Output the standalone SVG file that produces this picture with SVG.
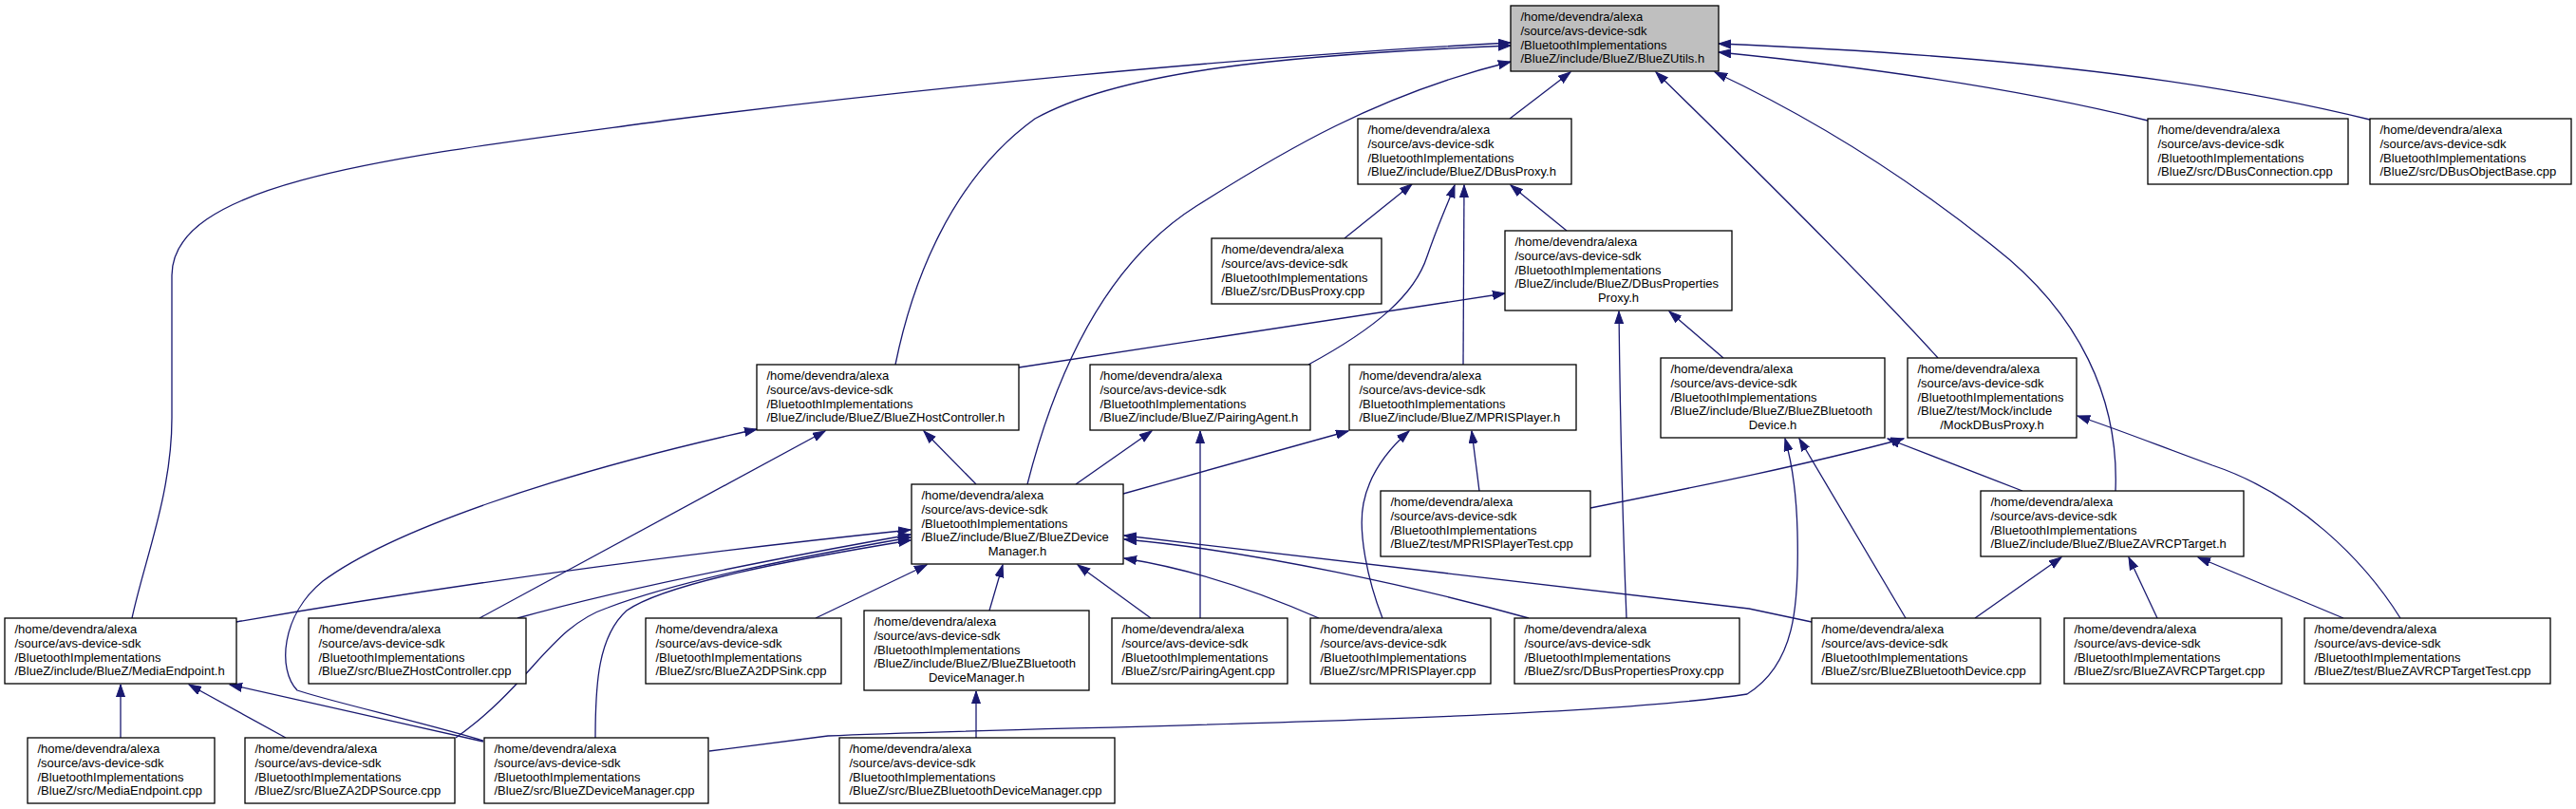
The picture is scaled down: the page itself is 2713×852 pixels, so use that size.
<svg xmlns="http://www.w3.org/2000/svg" width="2713" height="852" viewBox="0 0 2713 852">
<defs>
<marker id="arr" markerUnits="userSpaceOnUse" markerWidth="15" markerHeight="11" refX="13" refY="5" orient="auto">
<path d="M0,0.5 L13,5 L0,9.5 Z" fill="#191970" stroke="#191970" stroke-width="1"/>
</marker>
<style>
.node rect{fill:#ffffff;stroke:#000000;stroke-width:1.3}
.root rect{fill:#bfbfbf}
.node text{font-family:"Liberation Sans",Arial,Helvetica,sans-serif;font-size:13px;fill:#000000}
.c{text-anchor:middle}
#edges path{fill:none;stroke:#191970;stroke-width:1.3;marker-end:url(#arr)}
</style>
</defs>
<rect x="0" y="0" width="2713" height="852" fill="#ffffff"/>
<g id="edges">
<path d="M139,651 C152,590 181,520 181,440 L181,290 C181,190 420,165 700,127 C950,95 1300,60 1591,45"/>
<path d="M943,384 C960,300 1000,190 1090,125 C1180,75 1350,58 1591,48"/>
<path d="M1082,510 C1110,400 1160,280 1260,217 C1350,160 1450,100 1591,65"/>
<path d="M1590,125 L1654,76"/>
<path d="M2041,377 Q1955,282 1744,76"/>
<path d="M2228,517 C2232,420 2190,330 2100,260 C2000,180 1900,120 1806,76"/>
<path d="M2262,127 Q2080,82 1810,55"/>
<path d="M2496,126 C2350,90 2150,60 1810,46"/>
<path d="M1416,251 L1487,194"/>
<path d="M1378,384 C1450,345 1490,310 1503,270 C1515,235 1526,212 1532,195"/>
<path d="M1541,384 L1542,195"/>
<path d="M1650,243 L1591,195"/>
<path d="M1073,387 L1585,309"/>
<path d="M1815,377 L1758,328"/>
<path d="M1713,651 Q1707,500 1705,328"/>
<path d="M1028,510 L973,454"/>
<path d="M505,651 L869,454"/>
<path d="M509,780 C450,762 345,738 313,727 C292,705 296,648 340,612 C410,560 580,500 797,452"/>
<path d="M1133,510 L1213,454"/>
<path d="M1264,651 L1264,454"/>
<path d="M1183,520 L1420,454"/>
<path d="M1456,651 C1440,610 1430,560 1436,530 C1442,500 1460,475 1484,454"/>
<path d="M1558,517 L1550,454"/>
<path d="M2007,651 L1895,462"/>
<path d="M747,791 L872,775 C1100,765 1650,760 1840,731 C1890,700 1895,640 1893,560 C1892,520 1888,490 1880,462"/>
<path d="M1675,535 C1800,510 1900,490 2005,462"/>
<path d="M2130,517 L1988,462"/>
<path d="M2528,651 C2490,590 2420,520 2330,490 C2270,468 2230,452 2188,438"/>
<path d="M249,655 C450,620 700,585 959,558"/>
<path d="M545,651 C620,630 750,600 959,563"/>
<path d="M480,777 C560,720 580,660 640,640 C720,610 850,585 959,566"/>
<path d="M627,777 C627,720 630,670 660,643 C700,615 830,590 959,569"/>
<path d="M859,651 L976,595"/>
<path d="M1042,643 L1056,595"/>
<path d="M1212,651 L1135,595"/>
<path d="M1389,651 C1330,625 1260,600 1184,588"/>
<path d="M1610,651 C1500,620 1320,580 1184,568"/>
<path d="M1908,655 L1842,641 C1600,612 1380,585 1184,564"/>
<path d="M1028,777 L1028,728"/>
<path d="M127,777 L127,721"/>
<path d="M301,777 L199,721"/>
<path d="M509,781 L242,721"/>
<path d="M2080,651 L2171,587"/>
<path d="M2272,651 L2242,587"/>
<path d="M2468,651 L2315,587"/>
</g>
<g id="node0" class="node root"><rect x="1591" y="6" width="219" height="69"/><text><tspan x="1601.5" y="22.4">/home/devendra/alexa</tspan><tspan x="1601.5" y="37">/source/avs-device-sdk</tspan><tspan x="1601.5" y="51.6">/BluetoothImplementations</tspan><tspan x="1601.5" y="66.2">/BlueZ/include/BlueZ/BlueZUtils.h</tspan></text></g>
<g id="node1" class="node"><rect x="1430" y="125" width="225" height="69"/><text><tspan x="1440.5" y="141.4">/home/devendra/alexa</tspan><tspan x="1440.5" y="156">/source/avs-device-sdk</tspan><tspan x="1440.5" y="170.6">/BluetoothImplementations</tspan><tspan x="1440.5" y="185.2">/BlueZ/include/BlueZ/DBusProxy.h</tspan></text></g>
<g id="node2" class="node"><rect x="2262" y="125" width="211" height="69"/><text><tspan x="2272.5" y="141.4">/home/devendra/alexa</tspan><tspan x="2272.5" y="156">/source/avs-device-sdk</tspan><tspan x="2272.5" y="170.6">/BluetoothImplementations</tspan><tspan x="2272.5" y="185.2">/BlueZ/src/DBusConnection.cpp</tspan></text></g>
<g id="node3" class="node"><rect x="2496" y="125" width="212" height="69"/><text><tspan x="2506.5" y="141.4">/home/devendra/alexa</tspan><tspan x="2506.5" y="156">/source/avs-device-sdk</tspan><tspan x="2506.5" y="170.6">/BluetoothImplementations</tspan><tspan x="2506.5" y="185.2">/BlueZ/src/DBusObjectBase.cpp</tspan></text></g>
<g id="node4" class="node"><rect x="1276" y="251" width="179" height="69"/><text><tspan x="1286.5" y="267.4">/home/devendra/alexa</tspan><tspan x="1286.5" y="282">/source/avs-device-sdk</tspan><tspan x="1286.5" y="296.6">/BluetoothImplementations</tspan><tspan x="1286.5" y="311.2">/BlueZ/src/DBusProxy.cpp</tspan></text></g>
<g id="node5" class="node"><rect x="1585" y="243" width="239" height="84"/><text><tspan x="1595.5" y="259.4">/home/devendra/alexa</tspan><tspan x="1595.5" y="274">/source/avs-device-sdk</tspan><tspan x="1595.5" y="288.6">/BluetoothImplementations</tspan><tspan x="1595.5" y="303.2">/BlueZ/include/BlueZ/DBusProperties</tspan><tspan class="c" x="1704.5" y="317.8">Proxy.h</tspan></text></g>
<g id="node6" class="node"><rect x="797" y="384" width="276" height="69"/><text><tspan x="807.5" y="400.4">/home/devendra/alexa</tspan><tspan x="807.5" y="415">/source/avs-device-sdk</tspan><tspan x="807.5" y="429.6">/BluetoothImplementations</tspan><tspan x="807.5" y="444.2">/BlueZ/include/BlueZ/BlueZHostController.h</tspan></text></g>
<g id="node7" class="node"><rect x="1148" y="384" width="232" height="69"/><text><tspan x="1158.5" y="400.4">/home/devendra/alexa</tspan><tspan x="1158.5" y="415">/source/avs-device-sdk</tspan><tspan x="1158.5" y="429.6">/BluetoothImplementations</tspan><tspan x="1158.5" y="444.2">/BlueZ/include/BlueZ/PairingAgent.h</tspan></text></g>
<g id="node8" class="node"><rect x="1421" y="384" width="239" height="69"/><text><tspan x="1431.5" y="400.4">/home/devendra/alexa</tspan><tspan x="1431.5" y="415">/source/avs-device-sdk</tspan><tspan x="1431.5" y="429.6">/BluetoothImplementations</tspan><tspan x="1431.5" y="444.2">/BlueZ/include/BlueZ/MPRISPlayer.h</tspan></text></g>
<g id="node9" class="node"><rect x="1749" y="377" width="236" height="84"/><text><tspan x="1759.5" y="393.4">/home/devendra/alexa</tspan><tspan x="1759.5" y="408">/source/avs-device-sdk</tspan><tspan x="1759.5" y="422.6">/BluetoothImplementations</tspan><tspan x="1759.5" y="437.2">/BlueZ/include/BlueZ/BlueZBluetooth</tspan><tspan class="c" x="1867" y="451.8">Device.h</tspan></text></g>
<g id="node10" class="node"><rect x="2009" y="377" width="178" height="84"/><text><tspan x="2019.5" y="393.4">/home/devendra/alexa</tspan><tspan x="2019.5" y="408">/source/avs-device-sdk</tspan><tspan x="2019.5" y="422.6">/BluetoothImplementations</tspan><tspan x="2019.5" y="437.2">/BlueZ/test/Mock/include</tspan><tspan class="c" x="2098" y="451.8">/MockDBusProxy.h</tspan></text></g>
<g id="node11" class="node"><rect x="960" y="510" width="223" height="84"/><text><tspan x="970.5" y="526.4">/home/devendra/alexa</tspan><tspan x="970.5" y="541">/source/avs-device-sdk</tspan><tspan x="970.5" y="555.6">/BluetoothImplementations</tspan><tspan x="970.5" y="570.2">/BlueZ/include/BlueZ/BlueZDevice</tspan><tspan class="c" x="1071.5" y="584.8">Manager.h</tspan></text></g>
<g id="node12" class="node"><rect x="1454" y="517" width="221" height="69"/><text><tspan x="1464.5" y="533.4">/home/devendra/alexa</tspan><tspan x="1464.5" y="548">/source/avs-device-sdk</tspan><tspan x="1464.5" y="562.6">/BluetoothImplementations</tspan><tspan x="1464.5" y="577.2">/BlueZ/test/MPRISPlayerTest.cpp</tspan></text></g>
<g id="node13" class="node"><rect x="2086" y="517" width="277" height="69"/><text><tspan x="2096.5" y="533.4">/home/devendra/alexa</tspan><tspan x="2096.5" y="548">/source/avs-device-sdk</tspan><tspan x="2096.5" y="562.6">/BluetoothImplementations</tspan><tspan x="2096.5" y="577.2">/BlueZ/include/BlueZ/BlueZAVRCPTarget.h</tspan></text></g>
<g id="node14" class="node"><rect x="5" y="651" width="244" height="69"/><text><tspan x="15.5" y="667.4">/home/devendra/alexa</tspan><tspan x="15.5" y="682">/source/avs-device-sdk</tspan><tspan x="15.5" y="696.6">/BluetoothImplementations</tspan><tspan x="15.5" y="711.2">/BlueZ/include/BlueZ/MediaEndpoint.h</tspan></text></g>
<g id="node15" class="node"><rect x="325" y="651" width="229" height="69"/><text><tspan x="335.5" y="667.4">/home/devendra/alexa</tspan><tspan x="335.5" y="682">/source/avs-device-sdk</tspan><tspan x="335.5" y="696.6">/BluetoothImplementations</tspan><tspan x="335.5" y="711.2">/BlueZ/src/BlueZHostController.cpp</tspan></text></g>
<g id="node16" class="node"><rect x="680" y="651" width="206" height="69"/><text><tspan x="690.5" y="667.4">/home/devendra/alexa</tspan><tspan x="690.5" y="682">/source/avs-device-sdk</tspan><tspan x="690.5" y="696.6">/BluetoothImplementations</tspan><tspan x="690.5" y="711.2">/BlueZ/src/BlueZA2DPSink.cpp</tspan></text></g>
<g id="node17" class="node"><rect x="910" y="643" width="237" height="84"/><text><tspan x="920.5" y="659.4">/home/devendra/alexa</tspan><tspan x="920.5" y="674">/source/avs-device-sdk</tspan><tspan x="920.5" y="688.6">/BluetoothImplementations</tspan><tspan x="920.5" y="703.2">/BlueZ/include/BlueZ/BlueZBluetooth</tspan><tspan class="c" x="1028.5" y="717.8">DeviceManager.h</tspan></text></g>
<g id="node18" class="node"><rect x="1171" y="651" width="185" height="69"/><text><tspan x="1181.5" y="667.4">/home/devendra/alexa</tspan><tspan x="1181.5" y="682">/source/avs-device-sdk</tspan><tspan x="1181.5" y="696.6">/BluetoothImplementations</tspan><tspan x="1181.5" y="711.2">/BlueZ/src/PairingAgent.cpp</tspan></text></g>
<g id="node19" class="node"><rect x="1380" y="651" width="190" height="69"/><text><tspan x="1390.5" y="667.4">/home/devendra/alexa</tspan><tspan x="1390.5" y="682">/source/avs-device-sdk</tspan><tspan x="1390.5" y="696.6">/BluetoothImplementations</tspan><tspan x="1390.5" y="711.2">/BlueZ/src/MPRISPlayer.cpp</tspan></text></g>
<g id="node20" class="node"><rect x="1595" y="651" width="237" height="69"/><text><tspan x="1605.5" y="667.4">/home/devendra/alexa</tspan><tspan x="1605.5" y="682">/source/avs-device-sdk</tspan><tspan x="1605.5" y="696.6">/BluetoothImplementations</tspan><tspan x="1605.5" y="711.2">/BlueZ/src/DBusPropertiesProxy.cpp</tspan></text></g>
<g id="node21" class="node"><rect x="1908" y="651" width="241" height="69"/><text><tspan x="1918.5" y="667.4">/home/devendra/alexa</tspan><tspan x="1918.5" y="682">/source/avs-device-sdk</tspan><tspan x="1918.5" y="696.6">/BluetoothImplementations</tspan><tspan x="1918.5" y="711.2">/BlueZ/src/BlueZBluetoothDevice.cpp</tspan></text></g>
<g id="node22" class="node"><rect x="2174" y="651" width="229" height="69"/><text><tspan x="2184.5" y="667.4">/home/devendra/alexa</tspan><tspan x="2184.5" y="682">/source/avs-device-sdk</tspan><tspan x="2184.5" y="696.6">/BluetoothImplementations</tspan><tspan x="2184.5" y="711.2">/BlueZ/src/BlueZAVRCPTarget.cpp</tspan></text></g>
<g id="node23" class="node"><rect x="2427" y="651" width="259" height="69"/><text><tspan x="2437.5" y="667.4">/home/devendra/alexa</tspan><tspan x="2437.5" y="682">/source/avs-device-sdk</tspan><tspan x="2437.5" y="696.6">/BluetoothImplementations</tspan><tspan x="2437.5" y="711.2">/BlueZ/test/BlueZAVRCPTargetTest.cpp</tspan></text></g>
<g id="node24" class="node"><rect x="29" y="777" width="197" height="69"/><text><tspan x="39.5" y="793.4">/home/devendra/alexa</tspan><tspan x="39.5" y="808">/source/avs-device-sdk</tspan><tspan x="39.5" y="822.6">/BluetoothImplementations</tspan><tspan x="39.5" y="837.2">/BlueZ/src/MediaEndpoint.cpp</tspan></text></g>
<g id="node25" class="node"><rect x="258" y="777" width="221" height="69"/><text><tspan x="268.5" y="793.4">/home/devendra/alexa</tspan><tspan x="268.5" y="808">/source/avs-device-sdk</tspan><tspan x="268.5" y="822.6">/BluetoothImplementations</tspan><tspan x="268.5" y="837.2">/BlueZ/src/BlueZA2DPSource.cpp</tspan></text></g>
<g id="node26" class="node"><rect x="510" y="777" width="236" height="69"/><text><tspan x="520.5" y="793.4">/home/devendra/alexa</tspan><tspan x="520.5" y="808">/source/avs-device-sdk</tspan><tspan x="520.5" y="822.6">/BluetoothImplementations</tspan><tspan x="520.5" y="837.2">/BlueZ/src/BlueZDeviceManager.cpp</tspan></text></g>
<g id="node27" class="node"><rect x="884" y="777" width="290" height="69"/><text><tspan x="894.5" y="793.4">/home/devendra/alexa</tspan><tspan x="894.5" y="808">/source/avs-device-sdk</tspan><tspan x="894.5" y="822.6">/BluetoothImplementations</tspan><tspan x="894.5" y="837.2">/BlueZ/src/BlueZBluetoothDeviceManager.cpp</tspan></text></g>
</svg>
